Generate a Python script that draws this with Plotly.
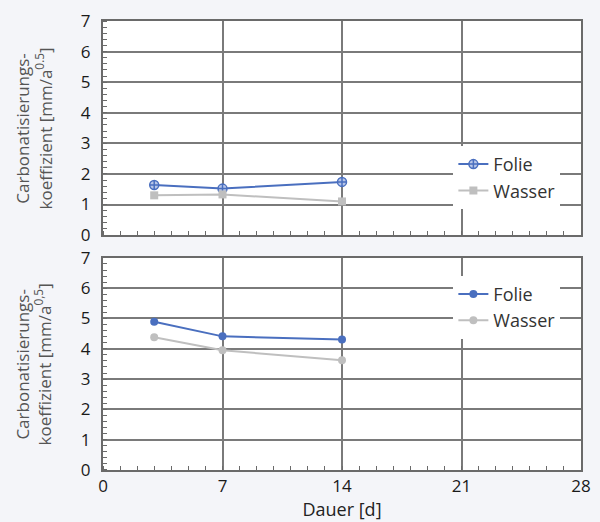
import plotly.graph_objects as go
from plotly.subplots import make_subplots

days = [3, 7, 14]
top_folie = [1.64, 1.52, 1.74]
top_wasser = [1.30, 1.33, 1.10]
bot_folie = [4.89, 4.41, 4.31]
bot_wasser = [4.38, 3.95, 3.62]
x_ticks = [0, 7, 14, 21, 28]
y_ticks = [0, 1, 2, 3, 4, 5, 6, 7]
series_names = ["Folie", "Wasser"]

BLUE = "#4a6fbf"
GRAY = "#bfbfbf"
FONT = "Open Sans"

fig = make_subplots(rows=2, cols=1, shared_xaxes=True, vertical_spacing=0.05)

fig.add_trace(go.Scatter(x=days, y=top_folie, name=series_names[0], mode="lines+markers",
                         line=dict(color=BLUE, width=2),
                         marker=dict(symbol="circle-cross", size=9, color="#b8c6e8",
                                     line=dict(color=BLUE, width=1.5)),
                         legend="legend", legendgroup="a"), row=1, col=1)
fig.add_trace(go.Scatter(x=days, y=top_wasser, name=series_names[1], mode="lines+markers",
                         line=dict(color=GRAY, width=2),
                         marker=dict(symbol="square", size=8, color=GRAY),
                         legend="legend", legendgroup="b"), row=1, col=1)
fig.add_trace(go.Scatter(x=days, y=bot_folie, name=series_names[0], mode="lines+markers",
                         line=dict(color=BLUE, width=2),
                         marker=dict(symbol="circle", size=8, color=BLUE),
                         legend="legend2", legendgroup="c"), row=2, col=1)
fig.add_trace(go.Scatter(x=days, y=bot_wasser, name=series_names[1], mode="lines+markers",
                         line=dict(color=GRAY, width=2),
                         marker=dict(symbol="circle", size=8, color=GRAY),
                         legend="legend2", legendgroup="d"), row=2, col=1)

axis_common = dict(showline=True, linecolor="#6a6a6a", linewidth=2, mirror=True,
                   showgrid=True, gridcolor="#7a7a7a", gridwidth=1.5, zeroline=False,
                   ticks="", tickfont=dict(family=FONT, size=17, color="#1a1a1a"))

for r in (1, 2):
    fig.update_xaxes(range=[0, 28], tickvals=x_ticks, ticktext=[str(v) for v in x_ticks],
                     minor=dict(dtick=1, ticks="inside", ticklen=4, tickcolor="#6a6a6a", showgrid=False),
                     row=r, col=1, **axis_common)
    fig.update_yaxes(range=[0, 7], tickvals=y_ticks, ticktext=[str(v) for v in y_ticks],
                     ticklabelstandoff=7,
                     minor=dict(dtick=0.2, ticks="inside", ticklen=4, tickcolor="#6a6a6a", showgrid=False),
                     row=r, col=1, **axis_common)

fig.update_xaxes(showticklabels=False, row=1, col=1)
fig.update_xaxes(title=dict(text="Dauer [d]", font=dict(family=FONT, size=18, color="#222222"), standoff=3),
                 row=2, col=1)

L, R, T, B = 103, 9, 20, 49
W, H = 600, 522
ph = H - T - B
fig.update_layout(
    width=W, height=H,
    margin=dict(l=L, r=R, t=T, b=B),
    paper_bgcolor="#f4f5f9", plot_bgcolor="#ffffff",
    font=dict(family=FONT, color="#333333"),
    yaxis=dict(domain=[(H - B - 236) / ph, 1.0]),
    yaxis2=dict(domain=[0.0, (H - B - 259) / ph]),
    legend=dict(x=0.733, y=(H - B - 146) / ph, xanchor="left", yanchor="top",
                bgcolor="#ffffff", borderwidth=0, traceorder="grouped", tracegroupgap=0,
                font=dict(family=FONT, size=18, color="#333333")),
    legend2=dict(x=0.733, y=(H - B - 277) / ph, xanchor="left", yanchor="top",
                 bgcolor="#ffffff", borderwidth=0, traceorder="grouped", tracegroupgap=0,
                 font=dict(family=FONT, size=18, color="#333333")),
)

ytitle = "Carbonatisierungs-<br>koeffizient [mm/a<sup>%s</sup>]"
for txt, ymid in ((ytitle % "0.5", (H - B - 128) / ph), (ytitle % "0,5", (H - B - 366) / ph)):
    fig.add_annotation(text=txt, xref="paper", yref="paper", x=(32 - L) / (W - L - R), y=ymid,
                       xanchor="center", yanchor="middle", textangle=-90, showarrow=False,
                       font=dict(family=FONT, size=17, color="#555555"))

fig.write_html("out.html")
